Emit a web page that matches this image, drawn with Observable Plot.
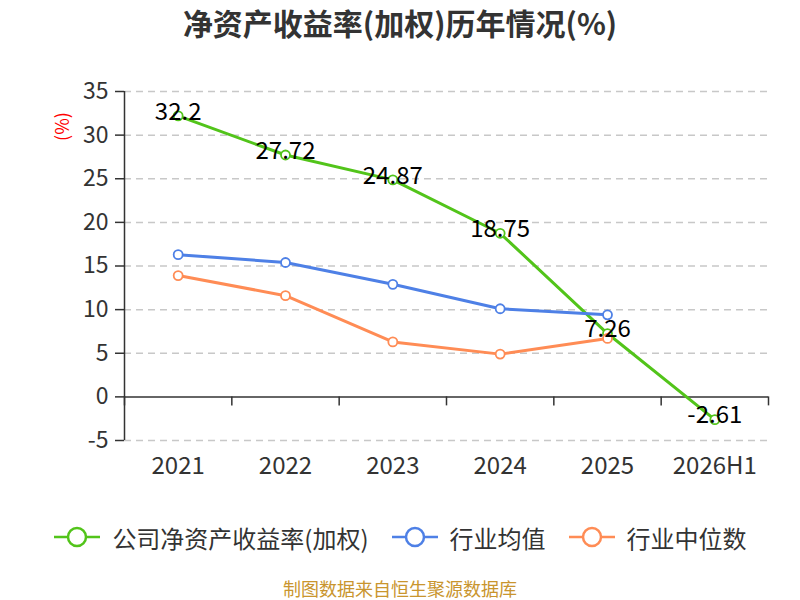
<!DOCTYPE html>
<html>
<head>
<meta charset="utf-8">
<script src="https://cdn.jsdelivr.net/npm/d3@7"></script>
<script src="https://cdn.jsdelivr.net/npm/@observablehq/plot@0.6"></script>
<style>
  body { margin: 0; background: #fff; font-family: "Noto Sans CJK SC", "Noto Sans", sans-serif; }
  #wrap { position: relative; width: 800px; height: 600px; overflow: hidden; }
  #title { position: absolute; left: 0; top: 0; width: 800px; height: 44px; line-height: 44px; text-align: center; font-size: 30px; font-weight: bold; color: #333; }
  #chart { position: absolute; left: 0; top: 45px; }
  #legend { position: absolute; left: 0; top: 518px; width: 800px; height: 38px; display: flex; justify-content: center; align-items: center; font-size: 24px; color: #333; }
  .item { display: flex; align-items: center; margin: 0 11px; }
  .item svg { margin-right: 11px; }
  #source { position: absolute; left: 0; top: 578px; width: 800px; height: 21px; line-height: 21px; text-align: center; font-size: 18px; color: #c9952e; }
</style>
</head>
<body>
<div id="wrap">
  <div id="title">净资产收益率(加权)历年情况(%)</div>
  <div id="chart"></div>
  <div id="legend"></div>
  <div id="source">制图数据来自恒生聚源数据库</div>
</div>
<script>
const categories = ["2021", "2022", "2023", "2024", "2025", "2026H1"];
const companyROE = [32.2, 27.72, 24.87, 18.75, 7.26, -2.61];
const industryMean = [16.3, 15.4, 12.9, 10.1, 9.4];
const industryMedian = [13.9, 11.6, 6.3, 4.9, 6.7];
const yTicks = [-5, 0, 5, 10, 15, 20, 25, 30, 35];
const seriesNames = ["公司净资产收益率(加权)", "行业均值", "行业中位数"];
const seriesColors = ["#52c41a", "#4e80e6", "#ff8c55"];

const toRows = (vals, s) => vals.map((v, i) => ({ i, v, s }));
const rows = [
  ...toRows(companyROE, seriesNames[0]),
  ...toRows(industryMean, seriesNames[1]),
  ...toRows(industryMedian, seriesNames[2])
];
const idx = categories.map((_, i) => i);
const bounds = [-0.5, ...idx.map(i => i + 0.5)];
const gridTicks = yTicks.filter(t => t !== 0);

const chart = Plot.plot({
  width: 800,
  height: 445,
  marginTop: 46,
  marginBottom: 50,
  marginLeft: 124,
  marginRight: 32,
  style: { fontFamily: '"Noto Sans CJK SC", "Noto Sans", sans-serif', background: "transparent" },
  x: { type: "linear", domain: [-0.5, categories.length - 0.5] },
  y: { domain: [-5, 35] },
  color: { domain: seriesNames, range: seriesColors },
  marks: [
    Plot.ruleY(gridTicks, { y: d => d, x1: -0.5, x2: categories.length - 0.5, stroke: "#c8c8c8", strokeWidth: 1.5, strokeDasharray: "7,5" }),
    Plot.axisY({ ticks: yTicks, tickFormat: d => String(d), tickSize: 9, tickPadding: 7, fontSize: 23, color: "#333", stroke: "#333", strokeWidth: 1.5, label: null }),
    Plot.ruleX([-0.5], { x: d => d, y1: -5, y2: 35, stroke: "#333", strokeWidth: 1.5 }),
    Plot.ruleY([0], { y: d => d, stroke: "#333", strokeWidth: 1.5 }),
    Plot.ruleX(bounds, { x: d => d, y1: 0, y2: 0, insetBottom: -9, stroke: "#333", strokeWidth: 1.5 }),
    Plot.axisX({ ticks: idx, tickFormat: i => categories[i], tickSize: 0, tickPadding: 16, fontSize: 24, color: "#333", label: null }),
    Plot.text(["(%)"], { frameAnchor: "top-left", textAnchor: "middle", dx: -68, dy: 35, rotate: -90, fill: "red", fontSize: 18 }),
    Plot.line(rows, { x: "i", y: "v", stroke: "s", z: "s", strokeWidth: 3 }),
    Plot.dot(rows, { x: "i", y: "v", stroke: "s", fill: "white", r: 4.5, strokeWidth: 1.8 }),
    Plot.text(rows.filter(d => d.s === seriesNames[0]), { x: "i", y: "v", text: d => String(d.v), fill: "black", fontSize: 24, dy: -4 })
  ]
});
document.getElementById("chart").appendChild(chart);

const legend = document.getElementById("legend");
seriesNames.forEach((name, k) => {
  const item = document.createElement("div");
  item.className = "item";
  item.innerHTML = `<svg width="48" height="24"><line x1="1" y1="12" x2="47" y2="12" stroke="${seriesColors[k]}" stroke-width="2.5"/><circle cx="24" cy="12" r="9" fill="white" stroke="${seriesColors[k]}" stroke-width="2.5"/></svg><span>${name}</span>`;
  legend.appendChild(item);
});
</script>
</body>
</html>
